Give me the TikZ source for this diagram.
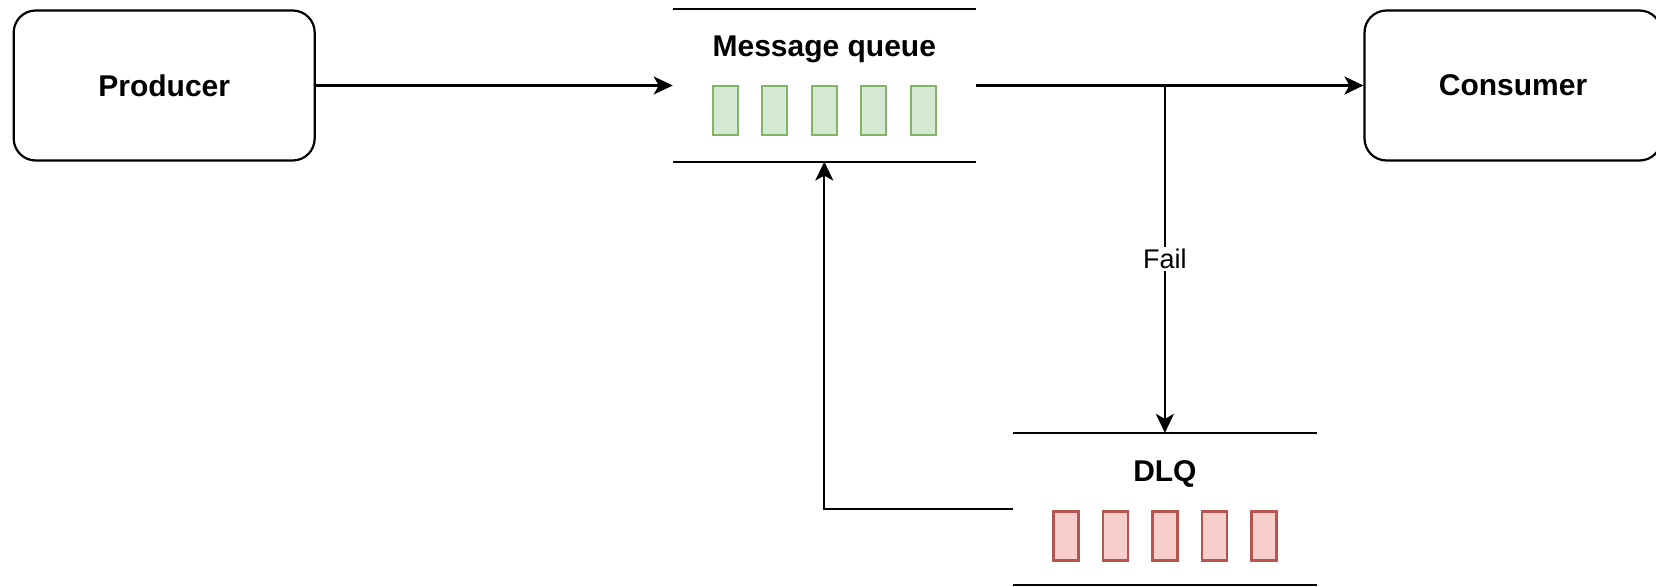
\documentclass[tikz,border=0pt]{standalone}
\usepackage{fontspec}
\setmainfont{Liberation Sans}
\usetikzlibrary{arrows.meta,calc}
\definecolor{okfill}{HTML}{D5E8D4}
\definecolor{okline}{HTML}{82B366}
\definecolor{badfill}{HTML}{F8CECC}
\definecolor{badline}{HTML}{B85450}
\begin{document}
\begin{tikzpicture}[x=1pt,y=-1pt,line width=2.2pt,
  box/.style={draw, rounded corners=22pt, minimum width=301pt, minimum height=150pt,
    inner sep=0pt, font=\bfseries\fontsize{30}{36}\selectfont},
  queue/.style={minimum width=301pt, minimum height=150pt, inner sep=0pt},
  qtitle/.style={inner sep=0pt, font=\bfseries\fontsize{30}{36}\selectfont},
  slot/.style={draw, line width=2.2pt, minimum width=25pt, minimum height=49pt, inner sep=0pt},
  arr/.style={-{Stealth[length=19pt,width=18pt,inset=5pt]}},
  lbl/.style={fill=white, inner sep=2pt, font=\fontsize{27}{32}\selectfont}
]
\useasboundingbox (0,0) rectangle (1656,586);

% endpoints
\node[box] (prod) at (164.2,85.5) {Producer};
\node[box, minimum width=297pt] (cons) at (1513,85.5) {Consumer};

% main queue
\node[queue] (mq) at (824.3,85.5) {};
\draw (mq.north west) -- (mq.north east);
\draw (mq.south west) -- (mq.south east);
\node[qtitle] (mqt) at (824.3,49.6) {Message queue};
\foreach \i in {1,...,5}
  \node[slot, fill=okfill, draw=okline] (mq\i) at ({824.3+(\i-3)*49.5},110.5) {};

% dead letter queue
\node[queue] (dlq) at (1164.9,509) {};
\draw (dlq.north west) -- (dlq.north east);
\draw (dlq.south west) -- (dlq.south east);
\node[qtitle] (dlqt) at (1164.9,474) {DLQ};
\foreach \i in {1,...,5}
  \node[slot, fill=badfill, draw=badline] (dlq\i) at ({1164.9+(\i-3)*49.5},536) {};

% flows
\coordinate (split) at (dlq.north |- mq.east);
\draw[arr] (prod.east) -- (mq.west);
\draw[arr] (mq.east) -- (cons.west);
\draw[arr] (split) -- node[lbl] (fail) {Fail} (dlq.north);
\draw[arr] (dlq.west) -| (mq.south);
\end{tikzpicture}
\end{document}
